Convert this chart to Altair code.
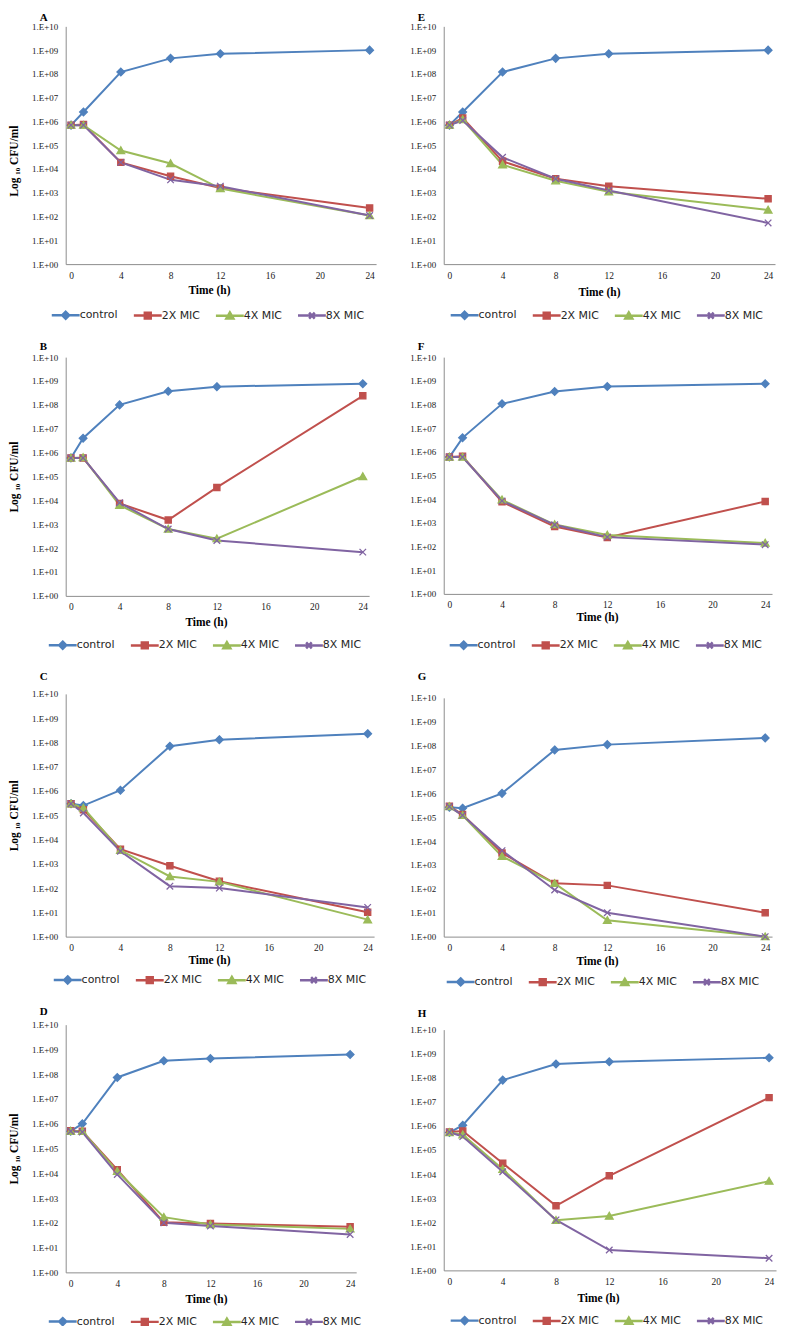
import altair as alt
import pandas as pd

# ---------------- data ----------------
TIMES = [0, 1, 4, 8, 12, 24]
SERIES = ["control", "2X MIC", "4X MIC", "8X MIC"]
COLORS = ["#4F81BD", "#C0504D", "#9BBB59", "#8064A2"]
X_TICKS = [0, 4, 8, 12, 16, 20, 24]
Y_TICKS = [1, 1e1, 1e2, 1e3, 1e4, 1e5, 1e6, 1e7, 1e8, 1e9, 1e10]

A_control = [7e5, 2.5e6, 1.2e8, 4.5e8, 7e8, 1e9]
A_2x = [7e5, 7.5e5, 1.9e4, 5e3, 1.6e3, 2.3e2]
A_4x = [7e5, 7e5, 6e4, 1.7e4, 1.5e3, 1.1e2]
A_8x = [7e5, 7e5, 1.9e4, 3.5e3, 1.9e3, 1.1e2]

B_control = [6e5, 4e6, 1e8, 3.7e8, 5.8e8, 7.7e8]
B_2x = [6e5, 6e5, 7.5e3, 1.5e3, 3.5e4, 2.4e8]
B_4x = [6e5, 6.3e5, 6.3e3, 6.3e2, 2.5e2, 1e5]
B_8x = [6e5, 6e5, 8e3, 6.3e2, 2.1e2, 6.8e1]

C_control = [3e5, 2.5e5, 1.07e6, 7e7, 1.3e8, 2.3e8]
C_2x = [3e5, 1.7e5, 4e3, 8.3e2, 1.9e2, 1e1]
C_4x = [3e5, 2e5, 3.6e3, 3e2, 1.8e2, 5]
C_8x = [3e5, 1.25e5, 3.3e3, 1.2e2, 1e2, 1.6e1]

D_control = [5e5, 1e6, 7.4e7, 3.5e8, 4.3e8, 6.2e8]
D_2x = [5.2e5, 5e5, 1.4e4, 1.05e2, 9.5e1, 7e1]
D_4x = [5e5, 5e5, 1.2e4, 1.7e2, 8.6e1, 5.7e1]
D_8x = [5e5, 4.6e5, 9e3, 1e2, 7.5e1, 3.4e1]

E_control = [7e5, 2.5e6, 1.2e8, 4.5e8, 7e8, 1e9]
E_2x = [7e5, 1.4e6, 2.1e4, 3.9e3, 1.9e3, 5.6e2]
E_4x = [7e5, 1.2e6, 1.5e4, 3.2e3, 1.1e3, 1.9e2]
E_8x = [7e5, 1.1e6, 3.1e4, 3.9e3, 1.25e3, 5.4e1]

F_control = [6e5, 3.9e6, 1.07e8, 3.5e8, 5.7e8, 7.5e8]
F_2x = [6e5, 6.5e5, 7.7e3, 7e2, 2.4e2, 8e3]
F_4x = [6e5, 6e5, 9.4e3, 8.5e2, 3.1e2, 1.4e2]
F_8x = [6e5, 6e5, 8.5e3, 8.3e2, 2.5e2, 1.2e2]

G_control = [2.6e5, 2.4e5, 1e6, 6.6e7, 1.1e8, 2.1e8]
G_2x = [2.9e5, 1.3e5, 3.2e3, 1.7e2, 1.4e2, 1e1]
G_4x = [2.8e5, 1.2e5, 2.3e3, 1.7e2, 4.8, 1]
G_8x = [2.8e5, 1.2e5, 4e3, 9e1, 1e1, 1]

H_control = [5.3e5, 1.07e6, 8e7, 3.7e8, 4.6e8, 6.8e8]
H_2x = [5.6e5, 6.2e5, 2.8e4, 4.8e2, 8.5e3, 1.5e7]
H_4x = [5.3e5, 4.3e5, 1.6e4, 1.2e2, 1.8e2, 5.1e3]
H_8x = [5.5e5, 3.6e5, 1.25e4, 1.25e2, 7, 3.2]

PANELS = {
    "A": [A_control, A_2x, A_4x, A_8x],
    "B": [B_control, B_2x, B_4x, B_8x],
    "C": [C_control, C_2x, C_4x, C_8x],
    "D": [D_control, D_2x, D_4x, D_8x],
    "E": [E_control, E_2x, E_4x, E_8x],
    "F": [F_control, F_2x, F_4x, F_8x],
    "G": [G_control, G_2x, G_4x, G_8x],
    "H": [H_control, H_2x, H_4x, H_8x],
}

# ---------------- layout / style ----------------
X_DOMAIN = [-0.43, 24.52]
LAYOUT = {
    "A": dict(w=312, h=239, toff=-1, lx=-16, ly=285, tx=144, ty=27, yty=135),
    "B": dict(w=305, h=240, toff=1, lx=-19, ly=284, tx=141, ty=27),
    "C": dict(w=310, h=244, toff=8, lx=-14, ly=282, tx=144, ty=24),
    "D": dict(w=292, h=249, toff=4, lx=-19, ly=293, tx=141, ty=27),
    "E": dict(w=333, h=239, toff=-1, lx=5, ly=285, tx=156, ty=29),
    "F": dict(w=330, h=238, toff=1, lx=4, ly=284, tx=154, ty=24),
    "G": dict(w=330, h=240, toff=12, lx=1, ly=280, tx=154, ty=25),
    "H": dict(w=334, h=242, toff=7, lx=5, ly=287, tx=155, ty=28),
}

POINT_PATHS = [
    "M0,-1L1,0L0,1L-1,0Z",
    "M-0.8,-0.8H0.8V0.8H-0.8Z",
    "M0,-0.95L1,0.8H-1Z",
    "M-0.85,-0.85L0.85,0.85M-0.85,0.85L0.85,-0.85",
]
LEGEND_PATHS = [
    "M-1,0H7M3,-1L4,0L3,1L2,0Z",
    "M-1,0H7M2.15,-0.85H3.85V0.85H2.15Z",
    "M-1,0H7M3,-0.95L4,0.8H2Z",
    "M-1,0H7M2.2,-0.85L3.8,0.85M2.2,0.85L3.8,-0.85",
]

SERIF = "Liberation Serif"
Y_LABEL_EXPR = ("'1.E+' + (round(log(datum.value) / LN10) < 10 ? '0' : '') + "
                "round(log(datum.value) / LN10)")


def make_panel(letter, left):
    cfg = LAYOUT[letter]
    rows = []
    for s, arr in zip(SERIES, PANELS[letter]):
        for t, v in zip(TIMES, arr):
            rows.append({"t": t, "cfu": v, "series": s})
    df = pd.DataFrame(rows)

    x_axis = alt.Axis(values=X_TICKS, title="Time (h)", grid=False, ticks=False, tickSize=0,
                      labelFlush=False, labelPadding=6, labelFont=SERIF, labelFontSize=9.5,
                      labelColor="#1a1a1a", domainColor="#8c8c8c", domainWidth=1,
                      titleFont=SERIF, titleFontSize=11.5, titleFontWeight="bold",
                      titleColor="#000000", titleX=cfg["tx"], titleY=cfg["ty"],
                      titleBaseline="middle")
    y_kwargs = dict(values=Y_TICKS, labelExpr=Y_LABEL_EXPR, grid=False, ticks=False, tickSize=0,
                    labelPadding=8, labelFont=SERIF, labelFontSize=9, labelColor="#1a1a1a",
                    domainColor="#8c8c8c", domainWidth=1, labelOverlap=False)
    if left:
        y_kwargs.update(title="Log ₁₀ CFU/ml", titleFont=SERIF, titleFontSize=11.5,
                        titleFontWeight="bold", titleColor="#000000", titlePadding=12)
        if "yty" in cfg:
            y_kwargs.update(titleY=cfg["yty"])
    else:
        y_kwargs.update(title=None)
    y_axis = alt.Axis(**y_kwargs)

    x = alt.X("t:Q", scale=alt.Scale(domain=X_DOMAIN, nice=False, zero=False), axis=x_axis)
    y = alt.Y("cfu:Q", scale=alt.Scale(type="log", domain=[1, 1e10], nice=False), axis=y_axis)

    legend = alt.Legend(
        orient="none", legendX=cfg["lx"], legendY=cfg["ly"], direction="horizontal",
        columns=4, title=None, symbolSize=49, symbolStrokeWidth=2.5, labelOffset=19,
        columnPadding=10.5, labelFont="DejaVu Sans", labelFontSize=11, labelColor="#262626",
        symbolOpacity=1,
    )

    base = alt.Chart(df)
    lines = base.mark_line(strokeWidth=2).encode(
        x=x, y=y,
        color=alt.Color("series:N", scale=alt.Scale(domain=SERIES, range=COLORS), legend=None),
    )
    points = base.mark_point(filled=True, size=60, opacity=1, strokeWidth=1.3).encode(
        x=x, y=y,
        color=alt.Color("series:N", scale=alt.Scale(domain=SERIES, range=COLORS), legend=None),
        stroke=alt.Stroke("series:N", scale=alt.Scale(domain=SERIES, range=COLORS), legend=None),
        shape=alt.Shape("series:N", scale=alt.Scale(domain=SERIES, range=POINT_PATHS), legend=None),
    )
    # legend-only layer: no rows reach it, the legend comes from the explicit scale domains
    keys = base.transform_filter("false").mark_point(filled=True, opacity=1).encode(
        x=x, y=y,
        color=alt.Color("series:N", scale=alt.Scale(domain=SERIES, range=COLORS), legend=legend),
        stroke=alt.Stroke("series:N", scale=alt.Scale(domain=SERIES, range=COLORS), legend=legend),
        shape=alt.Shape("series:N", scale=alt.Scale(domain=SERIES, range=LEGEND_PATHS), legend=legend),
    )
    title = alt.TitleParams(text=letter, anchor="start", frame="group", dx=-26,
                            offset=cfg["toff"], font=SERIF, fontSize=11, fontWeight="bold",
                            color="#000000")
    layered = alt.layer(lines, points, keys).resolve_scale(
        color="independent", shape="independent", stroke="independent")
    return layered.properties(width=cfg["w"], height=cfg["h"], title=title)


def column(letters, left):
    col = alt.vconcat(*[make_panel(l, left) for l in letters], spacing=15.5)
    return col.resolve_scale(color="independent", shape="independent",
                             stroke="independent")


chart = alt.hconcat(column("ABCD", True), column("EFGH", False), spacing=32)
chart = chart.resolve_scale(color="independent", shape="independent", stroke="independent")
chart = chart.properties(padding=0, background="white").configure_view(stroke="transparent")

chart.save("out.html", embed_options={"renderer": "svg", "actions": False})
